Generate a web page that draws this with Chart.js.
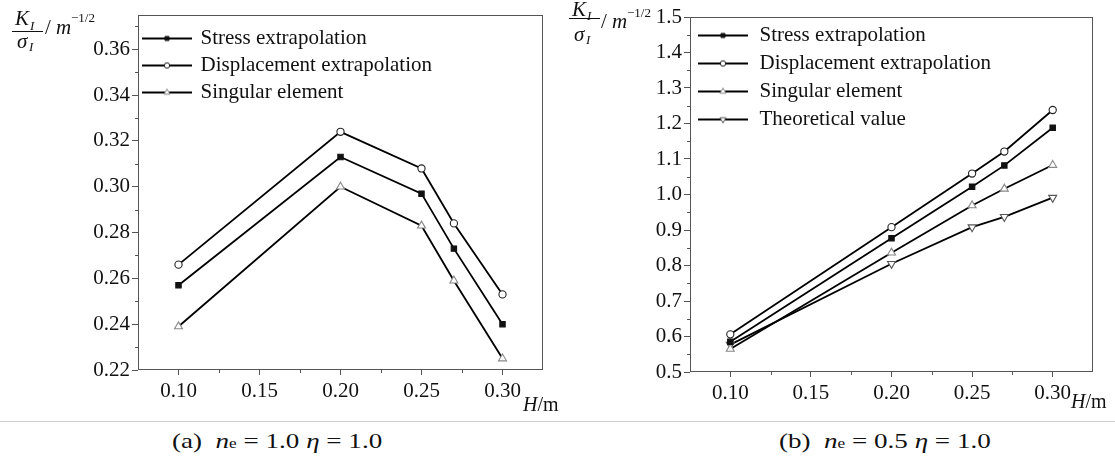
<!DOCTYPE html>
<html lang="en">
<head>
<meta charset="UTF-8">
<title>KI / sigmaI against H</title>
<style>
  body { margin:0; background:#fff; width:1115px; height:458px; position:relative; overflow:hidden;
         font-family:'Liberation Serif','Times New Roman',serif; color:#111; }
  .box { position:absolute; top:0; height:420px; }
  .lbl { position:absolute; white-space:nowrap; line-height:1; }
  .it { font-style:italic; }
  .sub { font-size:13px; }
  .cap { font-size:22px; transform:scaleX(1.23); transform-origin:0 0; }
  .cap .sub { font-size:14px; }
</style>
</head>
<body>
<div class="box" style="left:0;width:557px"><canvas id="chartA"></canvas></div>
<div class="box" style="left:557px;width:558px"><canvas id="chartB"></canvas></div>

<!-- y axis titles (fraction) -->
<div class="lbl it" style="left:15px;top:8px;font-size:21px">K</div>
<div class="lbl it sub" style="left:30px;top:19px">I</div>
<div class="lbl" style="left:12px;top:31px;width:31px;height:1px;background:#111"></div>
<div class="lbl it" style="left:17px;top:31px;font-size:21px">σ</div>
<div class="lbl it sub" style="left:29px;top:40px">I</div>
<div class="lbl" style="left:45px;top:17px;font-size:21px">/ <span class="it">m</span></div>
<div class="lbl sub" style="left:71px;top:11px">−1/2</div>

<div class="lbl it" style="left:572px;top:-1px;font-size:21px">K</div>
<div class="lbl it sub" style="left:587px;top:9px">I</div>
<div class="lbl" style="left:569px;top:18px;width:31px;height:1px;background:#111"></div>
<div class="lbl it" style="left:574px;top:24px;font-size:21px">σ</div>
<div class="lbl it sub" style="left:586px;top:33px">I</div>
<div class="lbl" style="left:601px;top:11px;font-size:21px">/ <span class="it">m</span></div>
<div class="lbl sub" style="left:627px;top:6px">−1/2</div>

<!-- x axis titles -->
<div class="lbl" style="left:523px;top:394px;font-size:20px"><span class="it">H</span>/m</div>
<div class="lbl" style="left:1071px;top:391px;font-size:20px"><span class="it">H</span>/m</div>

<!-- captions -->
<div class="lbl" style="left:0;top:421px;width:1115px;height:1px;background:#d0d0d0"></div>
<div class="lbl cap" style="left:172px;top:430px">(a)&nbsp; <span class="it">n</span><span class="sub">e</span> = 1.0 <span class="it">η</span> = 1.0</div>
<div class="lbl cap" style="left:779px;top:430px">(b)&nbsp; <span class="it">n</span><span class="sub">e</span> = 0.5 <span class="it">η</span> = 1.0</div>

<script src="https://cdn.jsdelivr.net/npm/chart.js"></script>
<script>
// crack depth H (m)
const hValues = [0.10, 0.20, 0.25, 0.27, 0.30];
const xTicks = [0.10, 0.15, 0.20, 0.25, 0.30];
const xMinor = [0.125, 0.175, 0.225, 0.275];

// (a) ne = 1.0, eta = 1.0
const stressA = [0.257, 0.313, 0.297, 0.273, 0.240];
const dispA   = [0.266, 0.324, 0.308, 0.284, 0.253];
const singA   = [0.239, 0.300, 0.283, 0.259, 0.225];
const yTicksA = [0.22, 0.24, 0.26, 0.28, 0.30, 0.32, 0.34, 0.36];
const yMinorA = [0.23, 0.25, 0.27, 0.29, 0.31, 0.33, 0.35, 0.37];

// (b) ne = 0.5, eta = 1.0
const stressB = [0.585, 0.877, 1.022, 1.082, 1.188];
const dispB   = [0.606, 0.908, 1.059, 1.121, 1.238];
const singB   = [0.565, 0.836, 0.969, 1.016, 1.083];
const theoB   = [0.577, 0.805, 0.908, 0.937, 0.991];
const yTicksB = [0.5, 0.6, 0.7, 0.8, 0.9, 1.0, 1.1, 1.2, 1.3, 1.4, 1.5];
const yMinorB = [0.55, 0.65, 0.75, 0.85, 0.95, 1.05, 1.15, 1.25, 1.35, 1.45];

const serif = "'Liberation Serif', 'Times New Roman', serif";
const axisColor = '#555';
const textColor = '#111';
Chart.defaults.font.family = serif;

// marker looks for each series
const styles = {
  stress: { pointStyle: 'rect', radius: 3.8, rotation: 0, fill: '#111', stroke: '#111' },
  disp:   { pointStyle: 'circle', radius: 3.6, rotation: 0, fill: '#fff', stroke: '#222' },
  sing:   { pointStyle: 'triangle', radius: 4.6, rotation: 0, fill: '#fff', stroke: '#888' },
  theo:   { pointStyle: 'triangle', radius: 4.6, rotation: 180, fill: '#fff', stroke: '#555' }
};

function pts(ys) {
  return hValues.map((h, i) => ({ x: h, y: ys[i] }));
}

function series(label, ys, st) {
  return {
    label: label,
    data: pts(ys),
    borderColor: '#000',
    borderWidth: 1.8,
    tension: 0,
    pointStyle: st.pointStyle,
    pointRotation: st.rotation,
    pointRadius: st.radius,
    pointBackgroundColor: st.fill,
    pointBorderColor: st.stroke,
    pointBorderWidth: 1.1,
    legendIcon: legendIcon(st)
  };
}

// little line + marker picture used in the legend
function legendIcon(st) {
  const c = document.createElement('canvas');
  c.width = 50; c.height = 12;
  const ctx = c.getContext('2d');
  ctx.strokeStyle = '#000';
  ctx.lineWidth = 2;
  ctx.beginPath(); ctx.moveTo(0, 6); ctx.lineTo(50, 6); ctx.stroke();
  ctx.fillStyle = st.fill;
  ctx.strokeStyle = st.stroke;
  ctx.lineWidth = 1;
  Chart.helpers.drawPoint(ctx, { pointStyle: st.pointStyle, radius: st.radius * 0.75, rotation: st.rotation, borderWidth: 1 }, 25, 6);
  return c;
}

// minor ticks and the closed frame
const framePlugin = {
  id: 'frame',
  afterDraw(chart, args, opts) {
    const { ctx, chartArea: a, scales } = chart;
    ctx.save();
    ctx.strokeStyle = axisColor;
    ctx.lineWidth = 1;
    ctx.beginPath();
    opts.xMinor.forEach(v => {
      const px = Math.round(scales.x.getPixelForValue(v)) + 0.5;
      ctx.moveTo(px, a.bottom); ctx.lineTo(px, a.bottom + 3);
    });
    opts.yMinor.forEach(v => {
      const py = Math.round(scales.y.getPixelForValue(v)) + 0.5;
      ctx.moveTo(a.left, py); ctx.lineTo(a.left - 3, py);
    });
    ctx.stroke();
    ctx.strokeRect(Math.round(a.left) + 0.5, Math.round(a.top) + 0.5,
                   Math.round(a.right - a.left) - 1, Math.round(a.bottom - a.top) - 1);
    ctx.restore();
  }
};

function makeChart(id, datasets, cfg) {
  return new Chart(document.getElementById(id), {
    type: 'line',
    data: { datasets: datasets },
    plugins: [framePlugin],
    options: {
      responsive: true,
      maintainAspectRatio: false,
      animation: false,
      devicePixelRatio: 1,
      layout: { padding: cfg.padding },
      plugins: {
        tooltip: { enabled: false },
        frame: { xMinor: xMinor, yMinor: cfg.yMinor },
        legend: {
          position: 'chartArea',
          align: 'start',
          title: { display: true, text: '', font: { size: 1, lineHeight: 1 }, padding: { top: cfg.legendTop, bottom: 0 } },
          labels: {
            usePointStyle: true,
            pointStyleWidth: cfg.iconWidth,
            padding: cfg.legendPad,
            color: textColor,
            font: { family: serif, size: 21 },
            generateLabels: chart => chart.data.datasets.map((ds, i) => ({
              text: ds.label,
              pointStyle: ds.legendIcon,
              datasetIndex: i,
              hidden: false,
              lineWidth: 0,
              fontColor: textColor
            }))
          }
        }
      },
      scales: {
        x: {
          type: 'linear',
          min: 0.075,
          max: 0.325,
          afterBuildTicks: s => { s.ticks = xTicks.map(v => ({ value: v })); },
          afterFit: s => { s.height = cfg.xHeight; },
          ticks: { callback: v => v.toFixed(2), color: textColor, font: { family: serif, size: 21 },
                   padding: 4, maxRotation: 0, autoSkip: false },
          grid: { drawOnChartArea: false, tickLength: 5, color: axisColor },
          border: { display: false }
        },
        y: {
          type: 'linear',
          min: cfg.yMin,
          max: cfg.yMax,
          afterBuildTicks: s => { s.ticks = cfg.yTicks.map(v => ({ value: v })); },
          afterFit: s => { s.width = cfg.yWidth; },
          ticks: { callback: v => v.toFixed(cfg.digits), color: textColor, font: { family: serif, size: 21 },
                   padding: 2, autoSkip: false },
          grid: { drawOnChartArea: false, tickLength: 6, color: axisColor },
          border: { display: false }
        }
      }
    }
  });
}

makeChart('chartA', [
  series('Stress extrapolation', stressA, styles.stress),
  series('Displacement extrapolation', dispA, styles.disp),
  series('Singular element', singA, styles.sing)
], {
  padding: { top: 15, right: 14, left: 0, bottom: 0 },
  yMin: 0.22, yMax: 0.375, yTicks: yTicksA, yMinor: yMinorA, digits: 2,
  yWidth: 138, xHeight: 50, legendTop: 21, legendPad: 6, iconWidth: 46
});

makeChart('chartB', [
  series('Stress extrapolation', stressB, styles.stress),
  series('Displacement extrapolation', dispB, styles.disp),
  series('Singular element', singB, styles.sing),
  series('Theoretical value', theoB, styles.theo)
], {
  padding: { top: 17, right: 22, left: 0, bottom: 0 },
  yMin: 0.5, yMax: 1.5, yTicks: yTicksB, yMinor: yMinorB, digits: 1,
  yWidth: 133, xHeight: 48, legendTop: 17, legendPad: 7, iconWidth: 52
});
</script>
</body>
</html>
